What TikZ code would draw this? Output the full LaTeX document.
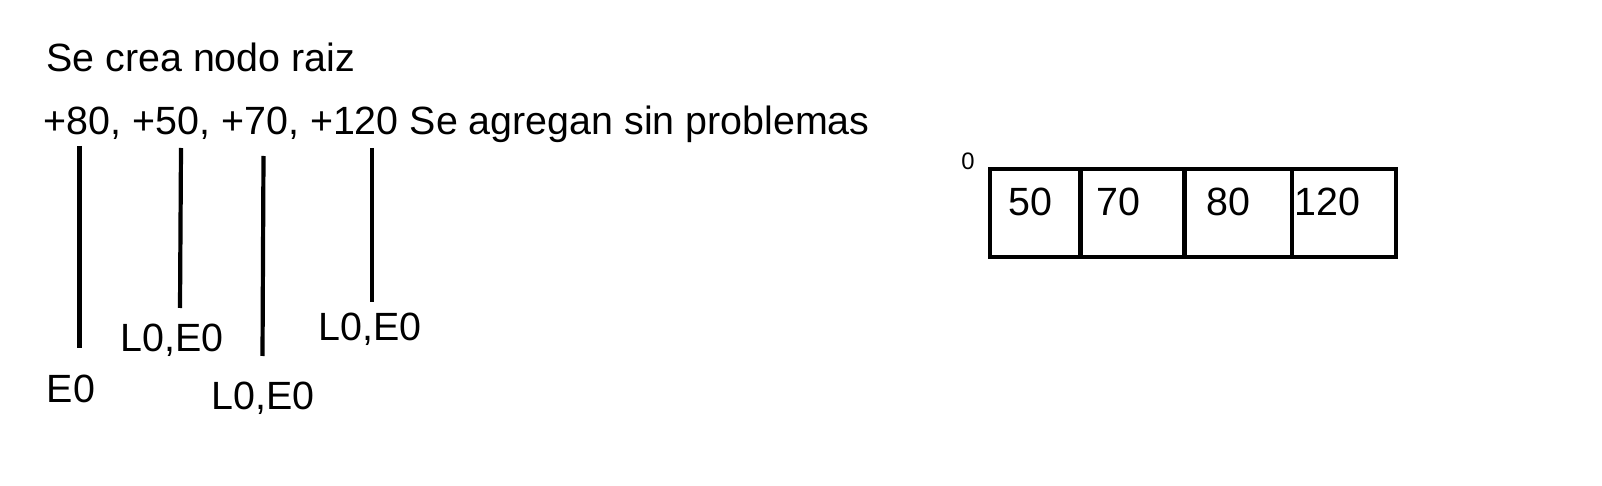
\documentclass[tikz,border=0pt]{standalone}
\usepackage{fontspec}
\setmainfont{Liberation Sans}
\begin{document}
\begin{tikzpicture}[x=0.5pt,y=-0.5pt,
  txt/.style={inner sep=0pt, anchor=base west, font=\fontsize{19.7}{24}\selectfont},
  small/.style={inner sep=0pt, anchor=base west, font=\fontsize{11.9}{14}\selectfont},
  bar/.style={line width=2.1pt, line cap=butt},
  boxline/.style={line width=2.2pt}]
\useasboundingbox (0,0) rectangle (1602,486);
% texts
\node[txt] (t1) at (46,71.5) {Se crea nodo raiz};
\node[txt] (t2) at (43.5,135) {+80, +50, +70, +120 Se agregan sin problemas};
\node[txt] (e0) at (46.5,402) {E0};
\node[txt] (le1) at (120,351) {L0,E0};
\node[txt] (le2) at (211,409) {L0,E0};
\node[txt] (le3) at (318,341) {L0,E0};
% bars
\coordinate (a1) at (79.5,146); \coordinate (b1) at (79.5,348);
\coordinate (a2) at (181,148); \coordinate (b2) at (180,308);
\coordinate (a3) at (263.5,156); \coordinate (b3) at (262.5,356);
\coordinate (a4) at (372,148); \coordinate (b4) at (372,302);
\draw[bar] (a1) -- (b1);
\draw[bar] (a2) -- (b2);
\draw[bar] (a3) -- (b3);
\draw[bar] (a4) -- (b4);
% array
\node[small] (zero) at (961,170) {0};
\coordinate (c0) at (990,169);
\coordinate (c4) at (1396,257);
\draw[boxline] (c0) rectangle (c4);
\draw[boxline] (1080.5,169) -- (1080.5,257);
\draw[boxline] (1184.5,169) -- (1184.5,257);
\draw[boxline] (1292,169) -- (1292,257);
\node[txt] (v1) at (1008,216) {50};
\node[txt] (v2) at (1096,216) {70};
\node[txt] (v3) at (1206.5,216) {80};
\node[txt] (v4) at (1294,216) {120};
\end{tikzpicture}
\end{document}
